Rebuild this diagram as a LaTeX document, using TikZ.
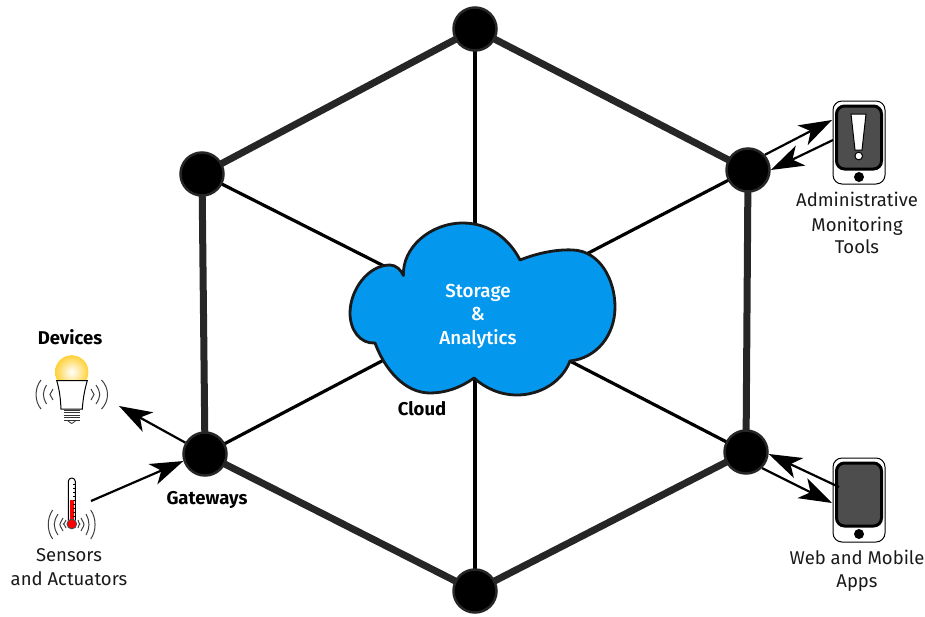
\documentclass[tikz,border=0pt]{standalone}
\usepackage{fontspec}
\setmainfont{Fira Sans}
\newfontfamily\firamed{Fira Sans Medium}
\usetikzlibrary{arrows.meta,backgrounds}
\definecolor{hexc}{HTML}{262626}
\definecolor{cloudc}{HTML}{0497EE}
\definecolor{screenc}{HTML}{4D4D4D}
\definecolor{bulbc}{HTML}{FFD23C}
\tikzset{
  hub/.style={circle,fill=black,draw=hexc,line width=2.5pt,minimum size=43pt,inner sep=0pt},
  rim/.style={hexc,line width=7pt},
  spoke/.style={black,line width=3.2pt},
  flow/.style={black,line width=2.2pt,-{Stealth[length=33pt,width=22pt,inset=9pt]}},
  lab/.style={font=\fontsize{18.5}{20}\selectfont,text=black!90,inner sep=0pt,anchor=base},
  blab/.style={font=\fontsize{18.5}{20}\selectfont\bfseries,text=black,inner sep=0pt,anchor=base},
  wlab/.style={font=\fontsize{18.8}{20}\selectfont\firamed,text=white,inner sep=0pt,anchor=base},
  wave/.style={black!75,line width=1pt},
  thin line/.style={black,line width=1pt}
}
\begin{document}
\begin{tikzpicture}[x=1pt,y=-1pt]
\useasboundingbox (0,0) rectangle (925,616);
% hubs
\coordinate (cc) at (475,312);
\node[hub] (top) at (475,29) {};
\node[hub] (ul) at (202,174) {};
\node[hub] (ur) at (748,170) {};
\node[hub] (lr) at (746,452) {};
\node[hub] (ll) at (205,454) {};
\node[hub] (bot) at (475,591) {};
\begin{pgfonlayer}{background}
\draw[rim] (top.center)--(ur.center)--(lr.center)--(bot.center)--(ll.center)--(ul.center)--cycle;
\foreach \h in {top,ul,ur,lr,ll,bot} \draw[spoke] (\h.center)--(cc);
\end{pgfonlayer}
% cloud
\draw[fill=cloudc,draw=black!90,line width=2.8pt,line join=round]
 (403.5,275.5) .. controls (402,248) and (430,223) .. (463,223)
 .. controls (490,223) and (510,240) .. (520,260)
 .. controls (535,254) and (555,249) .. (573,250)
 .. controls (600,251) and (615,280) .. (615,307)
 .. controls (615,335) and (597,358) .. (570,361)
 .. controls (562,382) and (540,395) .. (517,395)
 .. controls (500,395) and (485,388) .. (474,378)
 .. controls (460,388) and (445,393) .. (430,393)
 .. controls (405,393) and (385,370) .. (375,343)
 .. controls (360,344) and (350,330) .. (350,313)
 .. controls (350,290) and (368,265) .. (390,265)
 .. controls (396,265) and (401,270) .. (403.5,275.5) -- cycle;
\node[wlab] (s1) at (478,297) {Storage};
\node[wlab] (s2) at (478,320.5) {\&};
\node[wlab] (s3) at (478,344) {Analytics};
\node[blab] (cl) at (422,415.7) {Cloud};
\node[blab] (gw) at (207,504) {Gateways};
\node[blab] (dv) at (70,344) {Devices};
\node[lab] (sn) at (69,561.7) {Sensors};
\node[lab] (sa) at (69,585) {and Actuators};
\node[lab] (a1) at (857,206.7) {Administrative};
\node[lab] (a2) at (857,231) {Monitoring};
\node[lab] (a3) at (857,253.5) {Tools};
\node[lab] (w1) at (857,564) {Web and Mobile};
\node[lab] (w2) at (857,587.7) {Apps};
% phones
\foreach \yy/\bb in {101/184,458/542}{
  \draw[black,line width=1pt,fill=white,rounded corners=9pt] (833,\yy) rectangle (885,\bb);
  \draw[black,line width=3pt,fill=screenc,rounded corners=8pt] (836.5,\yy+5) rectangle (881.5,\yy+68);
  \fill[black] (859,\yy+76) circle (5);
}
\draw[black,line width=1pt,fill=white] (851,114) -- (866,114) -- (862,150) -- (855,150) -- cycle;
\draw[black,line width=1pt,fill=white] (858.7,156) circle (3.8);
% bulb
\begin{scope}
\clip (50,350) rectangle (95,380.5);
\shade[inner color=white,outer color=bulbc] (71.7,372) circle (16.5);
\draw[bulbc,line width=.7pt] (71.7,372) circle (16.3);
\end{scope}
\draw[thin line,fill=white] (56.7,380.5) -- (87.3,380.5) .. controls (84,392) and (83,400) .. (82.3,409) -- (61,409) .. controls (60.5,400) and (60,392) .. (56.7,380.5) -- cycle;
\foreach \yy in {410,412.5,415,417.5,420} \draw[black!80,line width=.8pt] (64,\yy) -- (79.5,\yy);
\draw[black!80,line width=.8pt] (68,421) -- (71.7,423.5) -- (75.5,421);
\foreach \a/\b/\c/\d in {41/34.4/380/409,46.5/42.3/385/404,53/49/389/400,101.5/109.5/380/409,96/101/385/404,91/95/389/400}{
  \draw[wave] (\a,\c) .. controls (\b,\c+8) and (\b,\d-8) .. (\a,\d);
}
% thermometer
\draw[thin line,fill=white,rounded corners=3.4pt] (68.3,520) -- (68.3,478) -- (75.3,478) -- (75.3,520);
\fill[red] (69.8,500) rectangle (74,524);
\foreach \yy in {484,488,492,496,500,504,508,512,516} \draw[black,line width=.6pt] (73,\yy) -- (75.3,\yy);
\draw[black!70,line width=1pt,fill=red] (71.8,524) circle (4.8);
\foreach \a/\b/\c/\d in {52.7/46.8/510/539,58/53/514/535,63/58.8/518/531,66/62.5/520/528,90.7/96.5/510/539,86/90/514/535,81/85/518/531,78/80.5/520/528}{
  \draw[wave] (\a,\c) .. controls (\b,\c+8) and (\b,\d-8) .. (\a,\d);
}
% flows
\coordinate (bulbend) at (119,406);
\coordinate (thermo) at (91,501);
\coordinate (ph1a) at (832,120);
\coordinate (ph1b) at (833,140);
\coordinate (ph2a) at (839,487);
\coordinate (ph2b) at (832,503);
\draw[flow] (ll.150) -- (bulbend);
\draw[flow] (thermo) -- (ll.198);
\draw[flow] (ur.42) -- (ph1a);
\draw[flow] (ph1b) -- (ur.0);
\draw[flow] (ph2a) -- (lr.-5);
\draw[flow] (lr.-45) -- (ph2b);
\end{tikzpicture}
\end{document}
